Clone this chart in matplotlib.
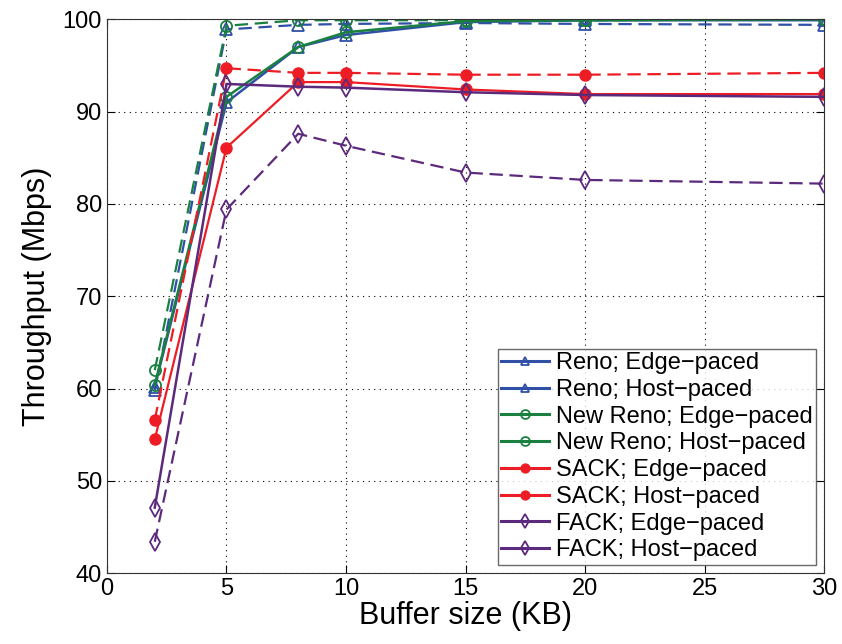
import matplotlib
matplotlib.use('Agg')
import matplotlib.pyplot as plt

plt.rcParams['font.family'] = ['Liberation Sans', 'DejaVu Sans']

buf = [2, 5, 8, 10, 15, 20, 30]

reno_edge = [59.8, 98.9, 99.4, 99.5, 99.6, 99.5, 99.4]
reno_host = [60.2, 91.0, 97.0, 98.3, 99.7, 99.9, 99.9]
newreno_edge = [62.0, 99.3, 99.9, 99.9, 99.9, 99.9, 100.0]
newreno_host = [60.4, 91.6, 97.0, 98.6, 99.8, 99.9, 100.0]
sack_edge = [56.6, 94.7, 94.2, 94.2, 94.0, 94.0, 94.2]
sack_host = [54.5, 86.1, 93.2, 93.2, 92.4, 91.9, 91.9]
fack_edge = [43.4, 79.4, 87.6, 86.3, 83.4, 82.6, 82.2]
fack_host = [47.1, 93.0, 92.7, 92.6, 92.1, 91.8, 91.6]

blue = '#3050a8'
green = '#1a8040'
red = '#ee1d25'
purple = '#5c2a7c'

fig = plt.figure(figsize=(8.42, 6.44), dpi=100)
ax = fig.add_axes([0.127, 0.110, 0.852, 0.860])

ax.plot(buf, reno_edge, '--', color=blue, marker='^', mfc='none', ms=8, mew=1.3, lw=1.6, dashes=(6, 3),
        label='Reno; Edge\u2212paced')
ax.plot(buf, reno_host, '-', color=blue, marker='^', mfc='none', ms=8, mew=1.3, lw=1.8,
        label='Reno; Host\u2212paced')
ax.plot(buf, newreno_edge, '--', color=green, marker='o', mfc='none', ms=8, mew=1.3, lw=1.6, dashes=(6, 3),
        label='New Reno; Edge\u2212paced')
ax.plot(buf, newreno_host, '-', color=green, marker='o', mfc='none', ms=8, mew=1.3, lw=1.8,
        label='New Reno; Host\u2212paced')
ax.plot(buf, sack_edge, '--', color=red, marker='o', mfc=red, ms=8, lw=1.6, dashes=(6, 3),
        label='SACK; Edge\u2212paced')
ax.plot(buf, sack_host, '-', color=red, marker='o', mfc=red, ms=8, lw=1.6,
        label='SACK; Host\u2212paced')
ax.plot(buf, fack_host, '-', color=purple, marker='d', mfc='none', ms=9, mew=1.3, lw=1.8,
        label='FACK; Edge\u2212paced')
ax.plot(buf, fack_edge, '--', color=purple, marker='d', mfc='none', ms=9, mew=1.3, lw=1.6, dashes=(6, 3),
        label='FACK; Host\u2212paced')

ax.set_xlim(0, 30)
ax.set_ylim(40, 100)
ax.set_xticks([0, 5, 10, 15, 20, 25, 30])
ax.set_yticks([40, 50, 60, 70, 80, 90, 100])
ax.tick_params(direction='in', labelsize=17, length=6, top=True, right=True)
ax.grid(True, linestyle=(0, (1, 4)), color='black', linewidth=0.8)
for s in ax.spines.values():
    s.set_color('#333333')

ax.set_xlabel('Buffer size (KB)', fontsize=22, labelpad=1)
ax.set_ylabel('Throughput (Mbps)', fontsize=22, labelpad=8)

leg = ax.legend(loc='lower right', fontsize=17, frameon=True, fancybox=False,
                edgecolor='#444444', borderpad=0.15, labelspacing=0.2, handlelength=2.0,
                handletextpad=0.3, borderaxespad=0.35, markerscale=0.8)
leg.get_frame().set_linewidth(1.0)
for ln in leg.get_lines():
    ln.set_linestyle('-')
    ln.set_linewidth(2.2)

fig.savefig('out.png', dpi=100)
